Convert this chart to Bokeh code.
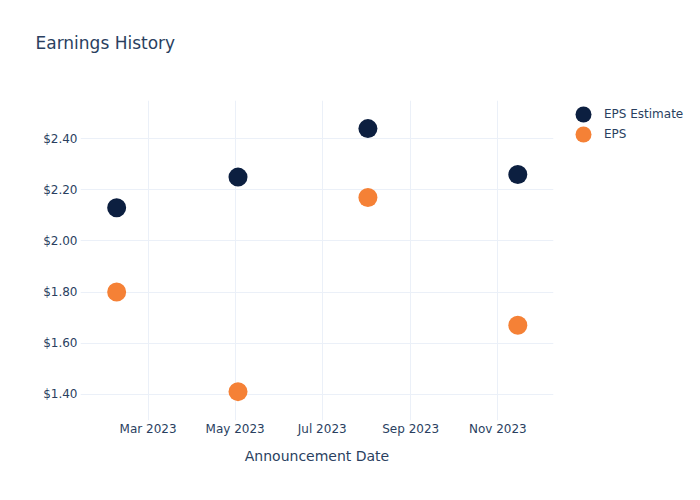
from datetime import datetime
from bokeh.plotting import figure
from bokeh.models import (ColumnDataSource, Legend, LegendItem, DatetimeTickFormatter,
                          MonthsTicker, NumeralTickFormatter, Range1d, Title)
from bokeh.embed import file_html
from bokeh.resources import INLINE

dates = [datetime(2023, 2, 7), datetime(2023, 5, 3), datetime(2023, 8, 2), datetime(2023, 11, 15)]
eps_estimate = [2.13, 2.25, 2.44, 2.26]
eps_actual = [1.80, 1.41, 2.17, 1.67]
series_names = ["EPS Estimate", "EPS"]
series_colors = ["#0c1f40", "#f58136"]

FONT = "DejaVu Sans"
TXT = "#2a3f5f"
GRID = "#ebf0f8"

src = ColumnDataSource(dict(date=dates, est=eps_estimate, eps=eps_actual))

p = figure(x_axis_type="datetime", output_backend="svg", toolbar_location=None,
           frame_width=473, frame_height=320,
           x_range=Range1d(datetime(2023, 1, 12, 16), datetime(2023, 12, 10)),
           y_range=Range1d(1.297, 2.55),
           min_border_left=80, min_border_top=100, min_border_bottom=64, min_border_right=131)
p.outline_line_color = None
p.background_fill_color = "white"
p.border_fill_color = "white"

p.title.text = "Earnings History"
p.title.align = "left"
p.title.vertical_align = "top"
p.title.offset = -45
p.title.standoff = 0
p.title.text_font = FONT
p.title.text_font_size = "17px"
p.title.text_font_style = "normal"
p.title.text_color = TXT

# spacer between title and plot area
p.add_layout(Title(text=" ", text_font_size="17px", text_font=FONT, standoff=24), "above")

p.scatter("date", "est", source=src, size=19, color=series_colors[0], line_color=None)
p.scatter("date", "eps", source=src, size=19, color=series_colors[1], line_color=None)

# legend proxies on a hidden range (ellipse legend glyphs are drawn at 0.8 of the slot)
p.extra_y_ranges = {"hidden": Range1d(start=1000, end=1001)}
proxies = []
for col, c in zip(["est", "eps"], series_colors):
    proxies.append(p.ellipse("date", col, source=src, y_range_name="hidden",
                             width=16, height=16, width_units="screen", height_units="screen",
                             fill_color=c, line_color=None))

p.xaxis.ticker = MonthsTicker(months=[0, 2, 4, 6, 8, 10])
p.xaxis.formatter = DatetimeTickFormatter(months="%b %Y", days="%b %Y")
p.yaxis.formatter = NumeralTickFormatter(format="$0.00")
p.yaxis.ticker = [1.4, 1.6, 1.8, 2.0, 2.2, 2.4]

for ax in (p.xaxis[0], p.yaxis[0]):
    ax.axis_line_color = None
    ax.major_tick_line_color = None
    ax.minor_tick_line_color = None
    ax.major_tick_out = 0
    ax.major_tick_in = 0
    ax.minor_tick_out = 0
    ax.major_label_text_font = FONT
    ax.major_label_text_font_size = "12px"
    ax.major_label_text_color = TXT
    ax.axis_label_text_font = FONT
    ax.axis_label_text_font_style = "normal"
    ax.axis_label_text_color = TXT

p.xaxis.axis_label = "Announcement Date"
p.xaxis.axis_label_text_font_size = "14px"
p.xaxis.major_label_standoff = 1
p.xaxis.axis_label_standoff = 9
p.yaxis.major_label_standoff = 3

p.xgrid.grid_line_color = GRID
p.ygrid.grid_line_color = GRID
p.xgrid.grid_line_width = 1
p.ygrid.grid_line_width = 1

legend = Legend(items=[LegendItem(label=n, renderers=[r]) for n, r in zip(series_names, proxies)],
                location=(20, 276), border_line_color=None, background_fill_alpha=0,
                label_text_font=FONT, label_text_font_size="12px", label_text_color=TXT,
                glyph_width=20, glyph_height=20, label_height=20, spacing=0,
                padding=0, margin=0, label_standoff=11)
p.add_layout(legend, "right")

open("out.html", "w").write(file_html(p, INLINE))
